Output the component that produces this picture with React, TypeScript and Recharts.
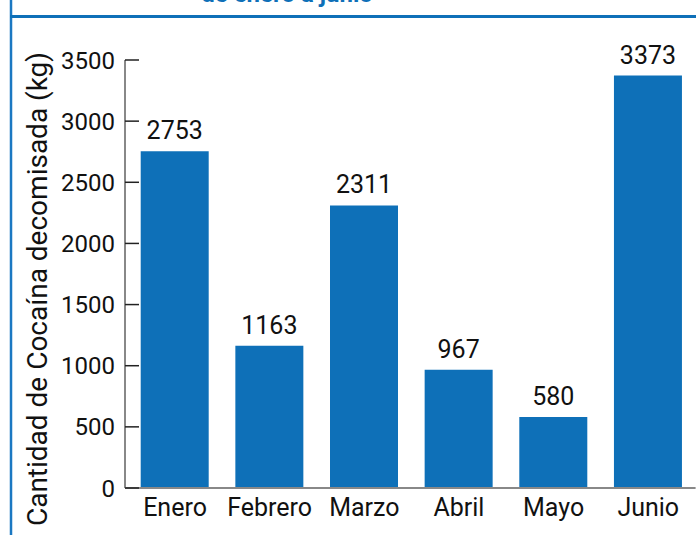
import React from 'react';
import { BarChart, Bar, XAxis, YAxis, LabelList } from 'recharts';

const months = ['Enero', 'Febrero', 'Marzo', 'Abril', 'Mayo', 'Junio'];
const cocaineKg = [2753, 1163, 2311, 967, 580, 3373];
const yTicks = [0, 500, 1000, 1500, 2000, 2500, 3000, 3500];
const boundaryTicks = [0, 1, 2, 3, 4, 5, 6];

const data = months.map((m, i) => ({ month: m, kg: cocaineKg[i] }));

const BLUE = '#0E70B8';
const FONT = 'Roboto, "Noto Sans", sans-serif';

const AxisTitle = () => (
  <text
    x={47}
    y={289}
    transform="rotate(-90 47 289)"
    textAnchor="middle"
    fontFamily={FONT}
    fontSize={28}
    fill="#111"
  >
    Cantidad de Cocaína decomisada (kg)
  </text>
);

export default function App() {
  return (
    <div style={{ position: 'absolute', left: 0, top: 0, width: 696, height: 535, background: '#fff', overflow: 'hidden' }}>
      <BarChart
        width={696}
        height={535}
        data={data}
        margin={{ top: 60, right: 0.4, left: 0, bottom: 0 }}
      >
        <XAxis
          xAxisId="grid"
          type="number"
          domain={[0, 6]}
          ticks={boundaryTicks}
          tick={false}
          tickSize={-10}
          axisLine={false}
          tickLine={{ stroke: '#222', strokeWidth: 1.5 }}
          padding={{ left: 0, right: 2.6 }}
          height={0}
        />
        <XAxis
          dataKey="month"
          height={47}
          tickSize={0}
          tickMargin={10}
          tickLine={false}
          axisLine={{ stroke: '#888', strokeWidth: 2 }}
          padding={{ left: 2.7, right: 0 }}
          tick={{ fontFamily: FONT, fontSize: 25, fill: '#111' }}
          interval={0}
        />
        <YAxis
          width={125}
          domain={[0, 3500]}
          ticks={yTicks}
          tickSize={-14}
          tickMargin={24}
          axisLine={{ stroke: '#888', strokeWidth: 2 }}
          tickLine={{ stroke: '#222', strokeWidth: 1.5 }}
          tick={{ fontFamily: FONT, fontSize: 24, fill: '#111' }}
          label={{ content: () => <AxisTitle /> }}
        />
        <Bar dataKey="kg" fill={BLUE} barSize={68} isAnimationActive={false}>
          <LabelList
            dataKey="kg"
            position="top"
            offset={12}
            fill="#111"
            fontFamily={FONT}
            fontSize={25}
          />
        </Bar>
      </BarChart>
      <svg width={696} height={535} style={{ position: 'absolute', left: 0, top: 0, pointerEvents: 'none' }}>
        <text x={287} y={1.5} textAnchor="middle" fontFamily={FONT} fontWeight="bold" fontSize={24} fill={BLUE}>
          de enero a junio
        </text>
        <line x1={11} y1={0} x2={11} y2={535} stroke="#1B78C2" strokeWidth={2.5} />
        <line x1={10} y1={16.5} x2={696} y2={16.5} stroke={BLUE} strokeWidth={3} />
      </svg>
    </div>
  );
}
